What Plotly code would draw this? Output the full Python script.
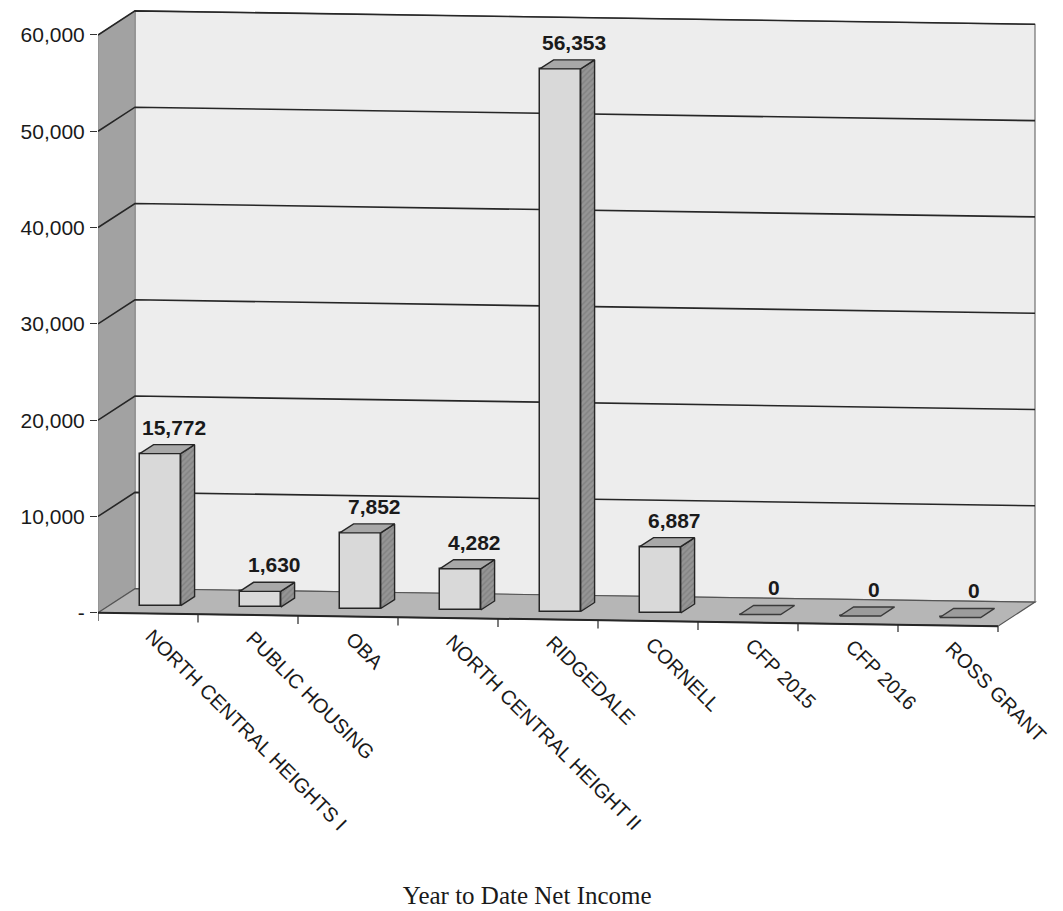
import plotly.graph_objects as go

# ---- data -------------------------------------------------------------
categories = [
    "NORTH CENTRAL HEIGHTS I",
    "PUBLIC HOUSING",
    "OBA",
    "NORTH CENTRAL HEIGHT II",
    "RIDGEDALE",
    "CORNELL",
    "CFP 2015",
    "CFP 2016",
    "ROSS GRANT",
]
net_income = [15772, 1630, 7852, 4282, 56353, 6887, 0, 0, 0]
value_labels = ["15,772", "1,630", "7,852", "4,282", "56,353", "6,887", "0", "0", "0"]
y_tick_values = [0, 10000, 20000, 30000, 40000, 50000, 60000]
y_tick_labels = ["-", "10,000", "20,000", "30,000", "40,000", "50,000", "60,000"]
chart_title = "Year to Date Net Income"

# ---- pseudo-3D geometry (category units on x, value units on y) -------
DEPTH_X = 0.37      # horizontal shift of the full box depth
DEPTH_Y = 2500      # vertical shift of the full box depth
TILT = 155          # slight downward drift to the right
BAR_D0 = 0.33       # depth at which bar front faces sit
BAR_DD = 0.375      # depth of each bar
BAR_W = 0.41        # bar width
Y_MAX = 60000
X_LO, X_HI = -0.5, len(categories) - 0.5

WALL_BACK = "#ededed"
WALL_SIDE = "#a2a2a2"
FLOOR = "#b6b6b6"
BAR_FRONT = "#d9d9d9"
BAR_TOP = "#a8a8a8"
BAR_SIDE = "#959595"
EDGE = "#262626"


def proj(x, v, d, tilt_x=None):
    """Map a point (x, value, depth) onto the flat axes."""
    tx = x if tilt_x is None else tilt_x
    return x + d * DEPTH_X, v + d * DEPTH_Y - TILT * (tx + 0.5)


def path_of(points, closed=True):
    s = "M " + " L ".join(f"{px:.5f},{py:.3f}" for px, py in points)
    return s + (" Z" if closed else "")


def poly(points):
    xs, ys = zip(*points)
    return list(xs) + [xs[0]], list(ys) + [ys[0]]


shapes = []


def add_shape(points, fill=None, line_color=EDGE, line_width=1.0, closed=True):
    shapes.append(dict(type="path", xref="x", yref="y", layer="below",
                       path=path_of(points, closed),
                       fillcolor=fill if fill else "rgba(0,0,0,0)",
                       line=dict(color=line_color, width=line_width)))


# walls and floor
add_shape([proj(X_LO, 0, 1), proj(X_HI, 0, 1), proj(X_HI, Y_MAX, 1), proj(X_LO, Y_MAX, 1)],
          fill=WALL_BACK, line_color="#707070", line_width=1.2)
add_shape([proj(X_LO, 0, 0), proj(X_LO, 0, 1), proj(X_LO, Y_MAX, 1), proj(X_LO, Y_MAX, 0)],
          fill=WALL_SIDE, line_color="#8a8a8a", line_width=1)
add_shape([proj(X_LO, 0, 0), proj(X_HI, 0, 0), proj(X_HI, 0, 1), proj(X_LO, 0, 1)],
          fill=FLOOR, line_color="#555555", line_width=1.2)

# gridlines across side wall and back wall
for v in y_tick_values[1:]:
    add_shape([proj(X_LO, v, 0), proj(X_LO, v, 1), proj(X_HI, v, 1)],
              line_color=EDGE, line_width=1.6, closed=False)

# front floor edge and category boundary ticks
add_shape([proj(X_LO, 0, 0), proj(X_HI, 0, 0)], line_color=EDGE, line_width=2, closed=False)
for k in range(len(categories) + 1):
    x0, y0 = proj(X_LO + k, 0, 0)
    add_shape([(x0, y0), (x0, y0 - 850)], line_color=EDGE, line_width=1.2, closed=False)

fig = go.Figure()

# bar front faces
bar_x = [i + BAR_D0 * DEPTH_X for i in range(len(categories))]
bar_base = [BAR_D0 * DEPTH_Y - TILT * (i + 0.5) for i in range(len(categories))]
fig.add_trace(go.Bar(x=bar_x, y=net_income, base=bar_base, width=BAR_W,
                     marker=dict(color=BAR_FRONT, line=dict(color=EDGE, width=1.5))))

# bar side and top faces
side_x, side_y, top_x, top_y, zero_x, zero_y = [], [], [], [], [], []
for i, v in enumerate(net_income):
    xl, xr = i - BAR_W / 2, i + BAR_W / 2
    d1 = BAR_D0 + BAR_DD
    top = [proj(xl, v, BAR_D0, i), proj(xr, v, BAR_D0, i), proj(xr, v, d1, i), proj(xl, v, d1, i)]
    px, py = poly(top)
    if v > 0:
        top_x += px + [None]
        top_y += py + [None]
        side = [proj(xr, 0, BAR_D0, i), proj(xr, 0, d1, i), proj(xr, v, d1, i), proj(xr, v, BAR_D0, i)]
        qx, qy = poly(side)
        side_x += qx + [None]
        side_y += qy + [None]
    else:
        zero_x += px + [None]
        zero_y += py + [None]

fig.add_trace(go.Scatter(x=side_x, y=side_y, mode="lines", fill="toself", fillcolor=BAR_SIDE,
                         fillpattern=dict(shape="/", bgcolor=BAR_SIDE, fgcolor="#6e6e6e",
                                          size=4, solidity=0.35),
                         line=dict(color=EDGE, width=1.4)))
fig.add_trace(go.Scatter(x=top_x, y=top_y, mode="lines", fill="toself", fillcolor=BAR_TOP,
                         line=dict(color=EDGE, width=1.4)))
fig.add_trace(go.Scatter(x=zero_x, y=zero_y, mode="lines", fill="toself", fillcolor="#9c9c9c",
                         line=dict(color="#3a3a3a", width=1.4)))

# value labels above each bar
for i, (v, lab) in enumerate(zip(net_income, value_labels)):
    cx, cy = proj(i, v, BAR_D0 + BAR_DD / 2, i)
    fig.add_annotation(x=cx, y=cy, text=lab, showarrow=False, xshift=7, yshift=22,
                       font=dict(family="Liberation Sans", size=21, color="#1a1a1a", weight="bold"))

# slanted category labels hanging from the front edge
for i, name in enumerate(categories):
    cx, cy = proj(i, 0, 0)
    fig.add_annotation(x=cx, y=cy, text=name, showarrow=False, textangle=45,
                       xanchor="left", yanchor="top", xshift=-9, yshift=-9,
                       font=dict(family="Liberation Sans", size=20, color="#1a1a1a"))

fig.update_layout(
    width=1063,
    height=911,
    paper_bgcolor="white",
    plot_bgcolor="white",
    showlegend=False,
    hovermode=False,
    bargap=0,
    shapes=shapes,
    margin=dict(l=98, r=25, t=8, b=279),
    title=dict(text=chart_title, x=0.496, xanchor="center", y=0.017, yanchor="middle",
               font=dict(family="Liberation Serif", size=25, color="#1a1a1a")),
    xaxis=dict(range=[X_LO, X_HI + DEPTH_X + 0.03], showticklabels=False, showgrid=False,
               zeroline=False, showline=False, ticks=""),
    yaxis=dict(range=[-2000, 62800], tickvals=y_tick_values, ticktext=y_tick_labels,
               showgrid=False, zeroline=False, showline=False, ticks="outside",
               ticklen=7, tickcolor="#333333", ticklabelstandoff=1,
               tickfont=dict(family="Liberation Sans", size=21, color="#1a1a1a")),
)

fig.write_html("out.html")
